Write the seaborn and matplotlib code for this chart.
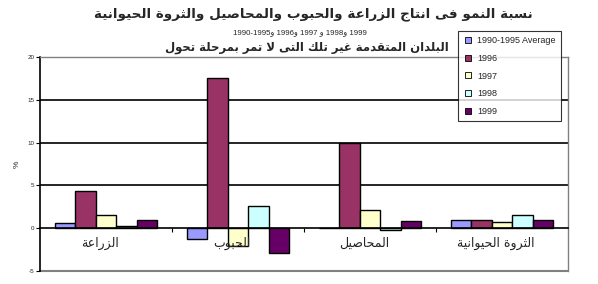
import numpy as np
import pandas as pd
import matplotlib
matplotlib.use("Agg")
import matplotlib.pyplot as plt
import seaborn as sns
from matplotlib.lines import Line2D
from matplotlib.transforms import offset_copy

# ---------------- data ----------------
categories = ["الزراعة", "الحبوب", "المحاصيل", "الثروة الحيوانية"]
series = ["1990-1995 Average", "1996", "1997", "1998", "1999"]
avg_90_95 = [0.6, -1.3, 0.05, 0.9]
y1996 = [4.4, 17.5, 9.9, 1.0]
y1997 = [1.6, -2.1, 2.1, 0.7]
y1998 = [0.3, 2.6, -0.2, 1.6]
y1999 = [1.0, -2.9, 0.8, 0.9]
yticks = [-5, 0, 5, 10, 15, 20]
colors = ["#9999FF", "#993366", "#FFFFCC", "#CCFFFF", "#660066"]

title = "نسبة النمو فى انتاج الزراعة والحبوب والمحاصيل والثروة الحيوانية"
subtitle_years = "1990-1995و 1996و 1997 و 1998و 1999"
subtitle = "البلدان المتقدمة غير تلك التى لا تمر بمرحلة تحول"
ylabel = "%"

# ---------------- simple Arabic shaping ----------------
FORMS = {
    '\u0627': (0xFE8D, 0xFE8E, None, None),
    '\u0628': (0xFE8F, 0xFE90, 0xFE91, 0xFE92),
    '\u0629': (0xFE93, 0xFE94, None, None),
    '\u062A': (0xFE95, 0xFE96, 0xFE97, 0xFE98),
    '\u062B': (0xFE99, 0xFE9A, 0xFE9B, 0xFE9C),
    '\u062C': (0xFE9D, 0xFE9E, 0xFE9F, 0xFEA0),
    '\u062D': (0xFEA1, 0xFEA2, 0xFEA3, 0xFEA4),
    '\u062E': (0xFEA5, 0xFEA6, 0xFEA7, 0xFEA8),
    '\u062F': (0xFEA9, 0xFEAA, None, None),
    '\u0630': (0xFEAB, 0xFEAC, None, None),
    '\u0631': (0xFEAD, 0xFEAE, None, None),
    '\u0632': (0xFEAF, 0xFEB0, None, None),
    '\u0633': (0xFEB1, 0xFEB2, 0xFEB3, 0xFEB4),
    '\u0634': (0xFEB5, 0xFEB6, 0xFEB7, 0xFEB8),
    '\u0635': (0xFEB9, 0xFEBA, 0xFEBB, 0xFEBC),
    '\u0636': (0xFEBD, 0xFEBE, 0xFEBF, 0xFEC0),
    '\u0637': (0xFEC1, 0xFEC2, 0xFEC3, 0xFEC4),
    '\u0638': (0xFEC5, 0xFEC6, 0xFEC7, 0xFEC8),
    '\u0639': (0xFEC9, 0xFECA, 0xFECB, 0xFECC),
    '\u063A': (0xFECD, 0xFECE, 0xFECF, 0xFED0),
    '\u0641': (0xFED1, 0xFED2, 0xFED3, 0xFED4),
    '\u0642': (0xFED5, 0xFED6, 0xFED7, 0xFED8),
    '\u0643': (0xFED9, 0xFEDA, 0xFEDB, 0xFEDC),
    '\u0644': (0xFEDD, 0xFEDE, 0xFEDF, 0xFEE0),
    '\u0645': (0xFEE1, 0xFEE2, 0xFEE3, 0xFEE4),
    '\u0646': (0xFEE5, 0xFEE6, 0xFEE7, 0xFEE8),
    '\u0647': (0xFEE9, 0xFEEA, 0xFEEB, 0xFEEC),
    '\u0648': (0xFEED, 0xFEEE, None, None),
    '\u0649': (0xFEEF, 0xFEF0, None, None),
    '\u064A': (0xFEF1, 0xFEF2, 0xFEF3, 0xFEF4),
    'LA': (0xFEFB, 0xFEFC, None, None),
}


def shape(text):
    chars = []
    i = 0
    while i < len(text):
        c = text[i]
        if c == '\u0644' and i + 1 < len(text) and text[i + 1] == '\u0627':
            chars.append('LA')
            i += 2
        else:
            chars.append(c)
            i += 1
    out = []
    for k, c in enumerate(chars):
        if c not in FORMS:
            out.append(c)
            continue
        prev = chars[k - 1] if k > 0 else None
        nxt = chars[k + 1] if k + 1 < len(chars) else None
        join_prev = prev in FORMS and FORMS[prev][2] is not None
        join_next = nxt in FORMS and FORMS[c][2] is not None
        iso, fin, ini, med = FORMS[c]
        if join_prev and join_next:
            cp = med
        elif join_prev:
            cp = fin
        elif join_next:
            cp = ini
        else:
            cp = iso
        out.append(chr(cp))
    return "".join(out)[::-1]


# ---------------- build table ----------------
values = [avg_90_95, y1996, y1997, y1998, y1999]
rows = []
for s, vals in zip(series, values):
    for c, v in zip(categories, vals):
        rows.append({"category": c, "series": s, "value": v})
df = pd.DataFrame(rows)

sns.set_theme(style="white")
plt.rcParams["font.family"] = ["Liberation Sans", "DejaVu Sans"]

fig = plt.figure(figsize=(5.98, 2.84), dpi=100)
ax = fig.add_axes([40 / 598, 1 - 271 / 284, 528 / 598, 214 / 284])

sns.barplot(data=df, x="category", y="value", hue="series", order=categories,
            hue_order=series, palette=colors, width=0.78, edgecolor="black",
            linewidth=1.0, saturation=1, ax=ax, legend=False, errorbar=None)

ax.set_ylim(-5, 20)
ax.set_xlim(-0.5, len(categories) - 0.5)
ax.set_yticks(yticks)
ax.set_yticklabels([str(t) for t in yticks], fontsize=4.5)
ax.tick_params(axis="y", length=3, width=0.8, pad=1, left=True, color="black")
ax.set_ylabel(ylabel, fontsize=6, labelpad=5, rotation=90)

# bottom spine at zero
ax.spines["bottom"].set_position(("data", 0))
ax.spines["bottom"].set_color("black")
ax.spines["bottom"].set_linewidth(1.2)
ax.spines["left"].set_color("black")
ax.spines["left"].set_linewidth(1.2)
ax.spines["top"].set_color("#808080")
ax.spines["right"].set_color("#808080")
ax.spines["top"].set_linewidth(1.0)
ax.spines["right"].set_linewidth(1.0)

ax.set_xticks(range(len(categories)))
ax.set_xticklabels([""] * len(categories))
ax.tick_params(axis="x", length=0, bottom=True)
ax.set_xticks([0.5, 1.5, 2.5], minor=True)
ax.tick_params(axis="x", which="minor", length=3, width=0.8, color="black",
               direction="out", bottom=True)
ax.set_xlabel("")

# category labels just under the zero line
lab_tr = offset_copy(ax.transData, fig=fig, x=-6, y=-15, units="dots")
for i, c in enumerate(categories):
    ax.text(i, 0, shape(c), transform=lab_tr, ha="center", va="center",
            fontsize=9, family=["DejaVu Sans"])

for g in [5, 10, 15]:
    ax.axhline(g, color="black", linewidth=1.2, zorder=0)
ax.axhline(-5, color="#808080", linewidth=1.5, zorder=0, clip_on=False)

# titles
fig.text(313 / 598, 1 - 14 / 284, shape(title), ha="center", va="center",
         fontsize=9.7, fontweight="bold", family=["DejaVu Sans"])
fig.text(300 / 598, 1 - 33 / 284, subtitle_years, ha="center", va="center",
         fontsize=5.7, family=["Liberation Sans", "DejaVu Sans"])
fig.text(307 / 598, 1 - 47 / 284, shape(subtitle), ha="center", va="center",
         fontsize=8.4, fontweight="bold", family=["DejaVu Sans"])

# legend
handles = [Line2D([], [], marker="s", linestyle="none", markersize=4,
                  markerfacecolor=col, markeredgecolor="black",
                  markeredgewidth=0.6) for col in colors]
leg = fig.legend(handles, series, loc="upper left",
                 bbox_to_anchor=(458 / 598, 1 - 31 / 284),
                 fontsize=6.5, frameon=True, fancybox=False, edgecolor="black",
                 handlelength=1.0, handletextpad=0.5, labelspacing=0.95,
                 borderpad=0.6, borderaxespad=0)
leg.get_frame().set_linewidth(0.8)
leg.get_frame().set_facecolor("white")

fig.savefig("out.png", dpi=100)
